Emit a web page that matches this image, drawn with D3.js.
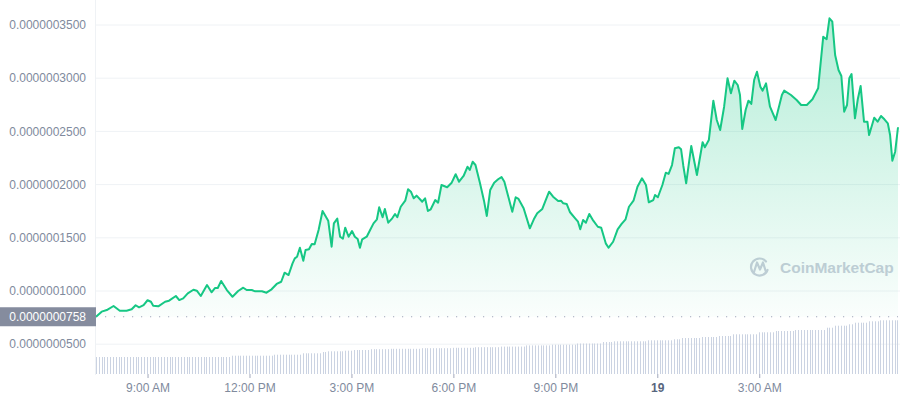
<!DOCTYPE html>
<html>
<head>
<meta charset="utf-8">
<script src="https://cdn.jsdelivr.net/npm/d3@7"></script>
<style>
  body { margin: 0; background: #fff; }
  svg { display: block; font-family: "Liberation Sans", Arial, sans-serif; }
</style>
</head>
<body>
<div id="chart"></div>
<script>
// minutes after the first sample (18th, 7:29 AM)
var minutes = [
  0, 10, 19, 31, 42, 54, 63, 70, 76, 84,
  91, 97, 101, 110, 122, 129, 141, 147, 154, 162,
  172, 178, 185, 196, 204, 210, 215, 221, 231, 241,
  251, 260, 266, 275, 281, 293, 301, 310, 319, 327,
  333, 340, 347, 351, 355, 360, 366, 370, 376, 381,
  386, 393, 400, 410, 416, 420, 426, 431, 436, 440,
  446, 452, 457, 462, 466, 470, 478, 484, 490, 496,
  500, 506, 510, 516, 523, 528, 532, 538, 546, 551,
  556, 561, 566, 572, 576, 581, 586, 591, 599, 604,
  610, 620, 628, 635, 641, 649, 656, 660, 665, 670,
  678, 685, 690, 696, 703, 710, 716, 721, 728, 735,
  741, 746, 755, 766, 773, 779, 788, 793, 800, 807,
  816, 821, 825, 831, 837, 846, 851, 855, 860, 865,
  871, 878, 886, 892, 900, 905, 913, 921, 928, 935,
  941, 949, 956, 964, 971, 976, 984, 987, 992, 1000,
  1006, 1011, 1017, 1022, 1029, 1033, 1037, 1042, 1051, 1061,
  1071, 1075, 1082, 1090, 1096, 1102, 1109, 1115, 1121, 1127,
  1133, 1137, 1141, 1147, 1152, 1157, 1162, 1167, 1173, 1177,
  1183, 1190, 1200, 1211, 1215, 1227, 1237, 1245, 1255, 1265,
  1275, 1284, 1290, 1295, 1300, 1305, 1311, 1316, 1321, 1326,
  1330, 1334, 1340, 1345, 1350, 1356, 1362, 1365, 1374, 1380,
  1386, 1392, 1398, 1402, 1406, 1411, 1416
];

// price in units of 1e-7
var prices = [
  0.758, 0.806, 0.821, 0.859, 0.815, 0.815, 0.828, 0.866, 0.847, 0.868,
  0.913, 0.899, 0.862, 0.856, 0.899, 0.909, 0.953, 0.915, 0.931, 0.978,
  1.012, 1.003, 0.953, 1.056, 0.988, 1.028, 1.028, 1.094, 1.009, 0.946,
  1.000, 1.031, 1.009, 1.009, 0.997, 0.997, 0.984, 1.016, 1.066, 1.087,
  1.172, 1.150, 1.260, 1.307, 1.322, 1.407, 1.285, 1.385, 1.392, 1.442,
  1.439, 1.573, 1.752, 1.661, 1.416, 1.636, 1.680, 1.510, 1.492, 1.595,
  1.510, 1.564, 1.510, 1.489, 1.407, 1.486, 1.510, 1.573, 1.636, 1.674,
  1.787, 1.693, 1.771, 1.642, 1.683, 1.724, 1.693, 1.792, 1.849, 1.956,
  1.933, 1.871, 1.896, 1.862, 1.839, 1.871, 1.752, 1.768, 1.855, 1.830,
  1.996, 1.975, 2.018, 2.097, 2.027, 2.081, 2.168, 2.137, 2.215, 2.184,
  2.012, 1.849, 1.705, 1.949, 2.018, 2.050, 2.071, 2.027, 1.886, 1.745,
  1.881, 1.865, 1.777, 1.589, 1.674, 1.730, 1.771, 1.839, 1.933, 1.886,
  1.846, 1.849, 1.824, 1.818, 1.740, 1.683, 1.651, 1.580, 1.667, 1.642,
  1.724, 1.661, 1.604, 1.595, 1.448, 1.407, 1.463, 1.580, 1.630, 1.674,
  1.792, 1.849, 1.980, 2.059, 1.996, 1.834, 1.855, 1.902, 1.881, 1.996,
  2.112, 2.100, 2.184, 2.341, 2.351, 2.332, 2.175, 2.012, 2.363, 2.090,
  2.398, 2.351, 2.419, 2.789, 2.607, 2.513, 2.732, 2.999, 2.858, 2.977,
  2.936, 2.842, 2.523, 2.701, 2.789, 2.758, 2.983, 3.061, 2.920, 2.883,
  2.952, 2.732, 2.607, 2.842, 2.883, 2.842, 2.795, 2.748, 2.748, 2.802,
  2.905, 3.390, 3.366, 3.563, 3.531, 3.218, 3.077, 3.021, 2.685, 2.748,
  2.999, 3.039, 2.623, 2.802, 2.927, 2.591, 2.591, 2.466, 2.629, 2.591,
  2.645, 2.614, 2.576, 2.466, 2.225, 2.309, 2.539
];

// 5-minute volume bars (relative units)
var volumes = [
  1.7, 1.7, 1.7, 1.7, 1.7, 1.7, 1.7, 1.7, 1.7, 1.7, 1.7, 1.7,
  1.7, 1.7, 1.7, 1.7, 1.7, 1.7, 1.7, 1.7, 1.7, 1.7, 1.7, 1.7,
  1.7, 1.7, 1.7, 1.7, 1.7, 1.7, 1.7, 1.7, 1.7, 1.7, 1.7, 1.7,
  1.7, 1.7, 1.7, 1.7, 1.7, 1.7, 1.7, 1.7, 1.7, 1.7, 1.7, 1.7,
  1.83, 1.83, 1.83, 1.83, 1.83, 1.83, 1.83, 1.83, 1.83, 1.83, 1.83, 1.83, 1.83, 1.83, 1.83,
  1.93, 1.93, 1.93, 1.93, 1.93, 1.93, 1.93, 1.93, 1.93, 1.93,
  2.07, 2.07, 2.07, 2.07, 2.07, 2.07, 2.07,
  2.2, 2.2,
  2.27, 2.27, 2.27, 2.27, 2.27, 2.27,
  2.33, 2.33, 2.33,
  2.4, 2.4, 2.4, 2.4, 2.4, 2.4,
  2.48, 2.48, 2.48, 2.48, 2.48, 2.48, 2.48,
  2.52, 2.52, 2.52, 2.52, 2.52, 2.52, 2.52, 2.52, 2.52, 2.52, 2.52,
  2.58, 2.58, 2.58, 2.58, 2.58, 2.58, 2.58, 2.58, 2.58, 2.58, 2.58,
  2.62, 2.62, 2.62, 2.62, 2.62, 2.62, 2.62, 2.62,
  2.68, 2.68, 2.68, 2.68, 2.68, 2.68, 2.68, 2.68, 2.68,
  2.74, 2.74, 2.74, 2.74, 2.74, 2.74, 2.74, 2.74, 2.74,
  2.86, 2.86, 2.86, 2.86, 2.86, 2.86, 2.86, 2.86, 2.86,
  2.93, 2.93, 2.93, 2.93, 2.93, 2.93, 2.93, 2.93, 2.93,
  3.05, 3.05, 3.05, 3.05, 3.05, 3.05, 3.05, 3.05, 3.05,
  3.2, 3.2, 3.2, 3.2,
  3.27, 3.27, 3.27, 3.27, 3.27, 3.27, 3.27, 3.27, 3.27, 3.27, 3.27, 3.27,
  3.37, 3.37, 3.37, 3.37, 3.37, 3.37, 3.37, 3.37, 3.37,
  3.47, 3.47, 3.47,
  3.6, 3.6, 3.6, 3.6, 3.6, 3.6, 3.6,
  3.7, 3.7, 3.7, 3.7, 3.7, 3.7,
  3.8, 3.8, 3.8, 3.8, 3.8,
  3.97, 3.97, 3.97, 3.97, 3.97, 3.97, 3.97, 3.97, 3.97,
  4.17, 4.17, 4.17, 4.17, 4.17, 4.17,
  4.3, 4.3, 4.3, 4.3, 4.3, 4.3, 4.3,
  4.4, 4.4, 4.4, 4.4, 4.4, 4.4, 4.4, 4.4, 4.4, 4.4, 4.4,
  4.63, 4.63, 4.63,
  4.83, 4.83, 4.83, 4.83, 4.83,
  4.97, 4.97,
  5.13, 5.13, 5.13, 5.13, 5.13,
  5.27, 5.27, 5.27, 5.27,
  5.37, 5.37, 5.37, 5.37, 5.37, 5.37, 5.37
];

var priceTicks = [0.5, 1, 1.5, 2, 2.5, 3, 3.5];
var openPrice = 0.758;
var tickHours = [9, 12, 15, 18, 21, 24, 27]; // hours after midnight of the 18th
var tickLabels = ["9:00 AM", "12:00 PM", "3:00 PM", "6:00 PM", "9:00 PM", "19", "3:00 AM"];

var width = 900, height = 400;
var left = 96, right = 898;

var start = new Date(2023, 0, 18, 7, 29);
var day = new Date(2023, 0, 18, 0, 0);
function atMinute(m) { return new Date(start.getTime() + m * 60000); }

var data = minutes.map(function(m, i) { return { t: atMinute(m), p: prices[i] }; });

var svg = d3.select("#chart").append("svg")
    .attr("width", width)
    .attr("height", height);

var x = d3.scaleTime().domain([start, atMinute(1416)]).range([left, right]);
var y = d3.scaleLinear().domain([0.5, 3.5]).range([344.2, 25]);
var yVol = d3.scaleLinear().domain([0, 6]).range([374, 314]);

// gradient for the area under the line
var grad = svg.append("defs").append("linearGradient")
    .attr("id", "fade")
    .attr("gradientUnits", "userSpaceOnUse")
    .attr("x1", 0).attr("x2", 0)
    .attr("y1", y(d3.max(prices))).attr("y2", y(openPrice));
grad.append("stop").attr("offset", 0).attr("stop-color", "#16c784").attr("stop-opacity", 0.32);
grad.append("stop").attr("offset", 1).attr("stop-color", "#16c784").attr("stop-opacity", 0.02);

// grid lines
svg.append("g").selectAll("line")
    .data(priceTicks)
    .enter().append("line")
    .attr("x1", left).attr("x2", width)
    .attr("y1", function(d) { return y(d); })
    .attr("y2", function(d) { return y(d); })
    .attr("stroke", "#eff2f5");

svg.append("line")
    .attr("x1", left - 0.5).attr("x2", left - 0.5)
    .attr("y1", 0).attr("y2", 375)
    .attr("stroke", "#eff2f5");

// y labels
svg.append("g").selectAll("text")
    .data(priceTicks)
    .enter().append("text")
    .attr("x", 86)
    .attr("y", function(d) { return y(d); })
    .attr("dy", "0.35em")
    .attr("text-anchor", "end")
    .attr("font-size", 12)
    .attr("fill", "#808a9d")
    .text(function(d) { return (d * 1e-7).toFixed(10); });

// volume bars
svg.append("g").selectAll("rect")
    .data(volumes)
    .enter().append("rect")
    .attr("x", function(d, i) { return Math.round(x(atMinute(i * 5))); })
    .attr("y", function(d) { return yVol(d); })
    .attr("width", 1)
    .attr("height", function(d) { return yVol(0) - yVol(d); })
    .attr("fill", "#cbd3e2");

// watermark
var wm = svg.append("g").attr("fill", "none").attr("stroke", "#c9ceda").attr("stroke-width", 2.2)
    .attr("stroke-linecap", "round").attr("stroke-linejoin", "round");
wm.append("path").attr("d", "M767.5,270 A8.5,8.5 0 1 1 766,261.5");
wm.append("path").attr("d", "M754,272 L757,262.5 L760,269.5 L763,262.5 L766,272");
svg.append("text")
    .attr("x", 780).attr("y", 273)
    .attr("font-size", 15.5)
    .attr("font-weight", "bold")
    .attr("fill", "#c9ceda")
    .text("CoinMarketCap");

// area + line
var area = d3.area()
    .x(function(d) { return x(d.t); })
    .y0(y(openPrice))
    .y1(function(d) { return y(d.p); });

svg.append("path")
    .datum(data)
    .attr("d", area)
    .attr("fill", "url(#fade)");

// open price reference
svg.append("line")
    .attr("x1", left).attr("x2", right)
    .attr("y1", y(openPrice)).attr("y2", y(openPrice))
    .attr("stroke", "#a1a7bb")
    .attr("stroke-width", 1.2)
    .attr("stroke-dasharray", "1.2,7.8");

var line = d3.line()
    .x(function(d) { return x(d.t); })
    .y(function(d) { return y(d.p); });

svg.append("path")
    .datum(data)
    .attr("d", line)
    .attr("fill", "none")
    .attr("stroke", "#16c784")
    .attr("stroke-width", 2)
    .attr("stroke-linejoin", "round");

// open price tag
svg.append("rect")
    .attr("x", 0).attr("y", y(openPrice) - 9.5)
    .attr("width", left).attr("height", 19)
    .attr("fill", "#858c9e");
svg.append("text")
    .attr("x", 86).attr("y", y(openPrice))
    .attr("dy", "0.35em")
    .attr("text-anchor", "end")
    .attr("font-size", 12)
    .attr("fill", "#fff")
    .text((openPrice * 1e-7).toFixed(10));

// x axis
var tickDates = tickHours.map(function(h) { return new Date(day.getTime() + h * 3600000); });
var xAxis = d3.axisBottom(x)
    .tickValues(tickDates)
    .tickSize(4)
    .tickPadding(5.5)
    .tickFormat(function(d, i) { return tickLabels[i]; });

var gx = svg.append("g")
    .attr("transform", "translate(0,374)")
    .call(xAxis);
gx.select(".domain").remove();
gx.selectAll("line").attr("stroke", "#a1a7bb");
gx.selectAll("text")
    .attr("font-family", "Liberation Sans, Arial, sans-serif")
    .attr("font-size", 12)
    .attr("fill", function(d, i) { return tickLabels[i] === "19" ? "#58667e" : "#808a9d"; })
    .attr("font-weight", function(d, i) { return tickLabels[i] === "19" ? "bold" : null; });
</script>
</body>
</html>
